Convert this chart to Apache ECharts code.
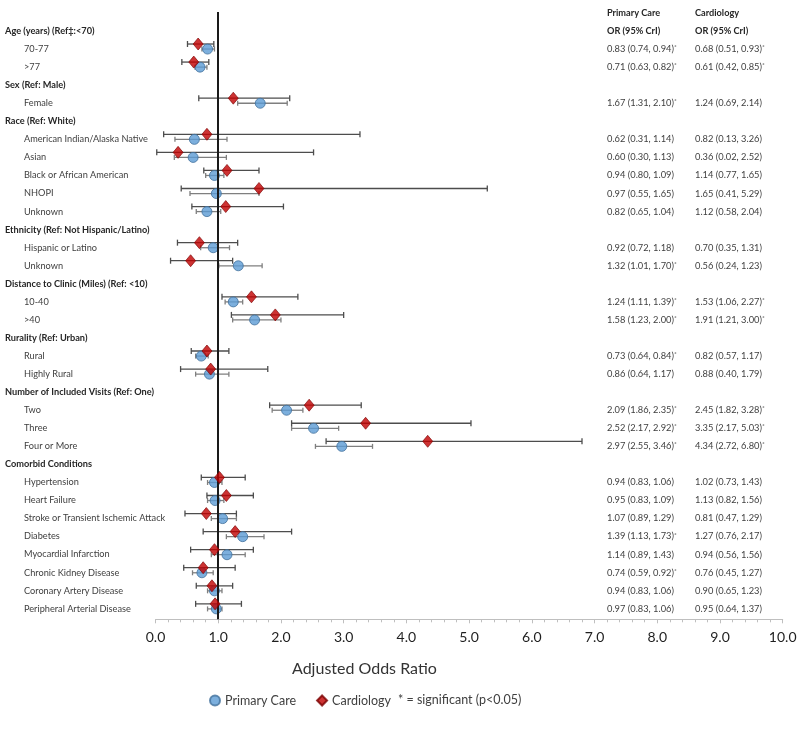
<!DOCTYPE html>
<html>
<head>
<meta charset="utf-8">
<script src="https://cdn.jsdelivr.net/npm/echarts@6/dist/echarts.min.js"></script>
<style>
  html, body { margin: 0; padding: 0; background: #fff; }
  #chart { width: 800px; height: 741px; }
</style>
</head>
<body>
<div id="chart"></div>
<script>
// rows of the forest plot, top to bottom
var rowLabels = [
    'Age (years) (Ref‡:<70)', '70-77', '>77',
    'Sex (Ref: Male)', 'Female',
    'Race (Ref: White)', 'American Indian/Alaska Native', 'Asian', 'Black or African American', 'NHOPI', 'Unknown',
    'Ethnicity (Ref: Not Hispanic/Latino)', 'Hispanic or Latino', 'Unknown',
    'Distance to Clinic (Miles) (Ref: <10)', '10-40', '>40',
    'Rurality (Ref: Urban)', 'Rural', 'Highly Rural',
    'Number of Included Visits (Ref: One)', 'Two', 'Three', 'Four or More',
    'Comorbid Conditions', 'Hypertension', 'Heart Failure', 'Stroke or Transient Ischemic Attack',
    'Diabetes', 'Myocardial Infarction', 'Chronic Kidney Disease', 'Coronary Artery Disease',
    'Peripheral Arterial Disease'
];
var headerRows = [0, 3, 5, 11, 14, 17, 20, 24];
var itemRows = [1, 2, 4, 6, 7, 8, 9, 10, 12, 13, 15, 16, 18, 19, 21, 22, 23, 25, 26, 27, 28, 29, 30, 31, 32];

// Primary Care
var pcOR   = [0.83, 0.71, 1.67, 0.62, 0.60, 0.94, 0.97, 0.82, 0.92, 1.32, 1.24, 1.58, 0.73, 0.86, 2.09, 2.52, 2.97, 0.94, 0.95, 1.07, 1.39, 1.14, 0.74, 0.94, 0.97];
var pcLow  = [0.74, 0.63, 1.31, 0.31, 0.30, 0.80, 0.55, 0.65, 0.72, 1.01, 1.11, 1.23, 0.64, 0.64, 1.86, 2.17, 2.55, 0.83, 0.83, 0.89, 1.13, 0.89, 0.59, 0.83, 0.83];
var pcHigh = [0.94, 0.82, 2.10, 1.14, 1.13, 1.09, 1.65, 1.04, 1.18, 1.70, 1.39, 2.00, 0.84, 1.17, 2.35, 2.92, 3.46, 1.06, 1.09, 1.29, 1.73, 1.43, 0.92, 1.06, 1.06];
var pcSig  = [1, 1, 1, 0, 0, 0, 0, 0, 0, 1, 1, 1, 1, 0, 1, 1, 1, 0, 0, 0, 1, 0, 1, 0, 0];

// Cardiology
var cdOR   = [0.68, 0.61, 1.24, 0.82, 0.36, 1.14, 1.65, 1.12, 0.70, 0.56, 1.53, 1.91, 0.82, 0.88, 2.45, 3.35, 4.34, 1.02, 1.13, 0.81, 1.27, 0.94, 0.76, 0.90, 0.95];
var cdLow  = [0.51, 0.42, 0.69, 0.13, 0.02, 0.77, 0.41, 0.58, 0.35, 0.24, 1.06, 1.21, 0.57, 0.40, 1.82, 2.17, 2.72, 0.73, 0.82, 0.47, 0.76, 0.56, 0.45, 0.65, 0.64];
var cdHigh = [0.93, 0.85, 2.14, 3.26, 2.52, 1.65, 5.29, 2.04, 1.31, 1.23, 2.27, 3.00, 1.17, 1.79, 3.28, 5.03, 6.80, 1.43, 1.56, 1.29, 2.17, 1.56, 1.27, 1.23, 1.37];
var cdSig  = [1, 1, 0, 0, 0, 0, 0, 0, 0, 0, 1, 1, 0, 0, 1, 1, 1, 0, 0, 0, 0, 0, 0, 0, 0];

var xMin = 0, xMax = 10, xStep = 1;
var tableTitles = ['Primary Care', 'Cardiology'];
var tableSubTitle = 'OR (95% CrI)';
var sigNote = '* = significant (p<0.05)';

document.addEventListener('DOMContentLoaded', function () {
    var chart = echarts.init(document.getElementById('chart'));
    var FONT = 'Lato, "DejaVu Sans", sans-serif';
    var cdShift = -0.28;   // diamond sits a little above the circle

    var pcPoints = [], cdPoints = [], pcBars = [], cdBars = [];
    var pcText = {}, cdText = {};
    function fmt(or, lo, hi, sig) {
        var s = '{v|' + or.toFixed(2) + ' (' + lo.toFixed(2) + ', ' + hi.toFixed(2) + ')}';
        return sig ? s + '{s|*}' : s;
    }
    itemRows.forEach(function (r, i) {
        pcPoints.push([pcOR[i], r]);
        cdPoints.push([cdOR[i], r + cdShift]);
        pcBars.push([pcLow[i], pcHigh[i], r]);
        cdBars.push([cdLow[i], cdHigh[i], r + cdShift]);
        pcText[r] = fmt(pcOR[i], pcLow[i], pcHigh[i], pcSig[i]);
        cdText[r] = fmt(cdOR[i], cdLow[i], cdHigh[i], cdSig[i]);
    });

    // table rows: one title row above the plot rows
    var tableCats = ['t'].concat(rowLabels.map(function (_, i) { return String(i); }));

    function errorBar(color, cap) {
        return function (params, api) {
            var y = api.value(2);
            var a = api.coord([api.value(0), y]);
            var b = api.coord([api.value(1), y]);
            var st = { stroke: color, lineWidth: 1.3 };
            return {
                type: 'group',
                children: [
                    { type: 'line', shape: { x1: a[0], y1: a[1], x2: b[0], y2: b[1] }, style: st },
                    { type: 'line', shape: { x1: a[0], y1: a[1] - cap, x2: a[0], y2: a[1] + cap }, style: st },
                    { type: 'line', shape: { x1: b[0], y1: b[1] - cap, x2: b[0], y2: b[1] + cap }, style: st }
                ]
            };
        };
    }

    var rich = {
        h: { fontFamily: FONT, fontSize: 9.2, fontWeight: 'bold', color: '#262626' },
        i: { fontFamily: FONT, fontSize: 9.2, color: '#404040', padding: [0, 0, 0, 19] },
        v: { fontFamily: FONT, fontSize: 9.3, color: '#404040' },
        s: { fontFamily: FONT, fontSize: 6.5, color: '#404040', padding: [0, 0, 4, 0] }
    };

    function tableLabel(col, textMap) {
        return function (val) {
            if (val === 't') return '{h|' + tableTitles[col] + '}';
            var r = +val;
            if (r === 0) return '{h|' + tableSubTitle + '}';
            return textMap[r] === undefined ? '' : textMap[r];
        };
    }

    var option = {
        animation: false,
        backgroundColor: '#fff',
        title: [{
            text: 'Adjusted Odds Ratio',
            left: 287,
            top: 656,
            textStyle: { fontFamily: FONT, fontSize: 16, fontWeight: 'normal', color: '#333' }
        }, {
            text: sigNote,
            left: 393,
            top: 688,
            textStyle: { fontFamily: FONT, fontSize: 12.5, fontWeight: 'normal', color: '#404040' }
        }],
        legend: {
            left: 204,
            top: 689,
            itemWidth: 10,
            itemHeight: 10,
            itemGap: 20,
            textStyle: { fontFamily: FONT, fontSize: 12.5, color: '#404040' },
            data: [
                { name: 'Primary Care', icon: 'circle' },
                { name: 'Cardiology', icon: 'diamond' }
            ]
        },
        grid: [
            { left: 155.5, right: 17.3, top: 12, bottom: 121.7 },
            { left: 160, right: 193, top: 3.975, bottom: 123.3 }
        ],
        xAxis: [{
            gridIndex: 0,
            type: 'value',
            min: xMin,
            max: xMax,
            interval: xStep,
            axisLine: { onZero: false, lineStyle: { color: '#bfbfbf', width: 1 } },
            axisTick: { show: true, length: 4, lineStyle: { color: '#bfbfbf' } },
            minorTick: { show: true, splitNumber: 5, length: 3, lineStyle: { color: '#bfbfbf' } },
            splitLine: { show: false },
            axisLabel: {
                margin: 11,
                fontFamily: FONT,
                fontSize: 14,
                color: '#1f1f1f',
                formatter: function (v) { return v.toFixed(1); }
            }
        }, {
            gridIndex: 1,
            type: 'value',
            show: false
        }],
        yAxis: [{
            gridIndex: 0,
            type: 'value',
            inverse: true,
            min: -1.0526,
            max: 32.576,
            show: false
        }, {
            gridIndex: 1,
            type: 'category',
            inverse: true,
            position: 'left',
            data: tableCats,
            axisLine: { show: false },
            axisTick: { show: false },
            axisLabel: {
                interval: 0,
                margin: 155,
                align: 'left',
                rich: rich,
                formatter: function (val) {
                    if (val === 't') return '';
                    var r = +val;
                    if (headerRows.indexOf(r) >= 0) return '{h|' + rowLabels[r] + '}';
                    return '{i|' + rowLabels[r] + '}';
                }
            }
        }, {
            gridIndex: 1,
            type: 'category',
            inverse: true,
            position: 'right',
            data: tableCats,
            axisLine: { show: false },
            axisTick: { show: false },
            axisLabel: { interval: 0, margin: 0, align: 'left', rich: rich, formatter: tableLabel(0, pcText) }
        }, {
            gridIndex: 1,
            type: 'category',
            inverse: true,
            position: 'right',
            offset: 88,
            data: tableCats,
            axisLine: { show: false },
            axisTick: { show: false },
            axisLabel: { interval: 0, margin: 0, align: 'left', rich: rich, formatter: tableLabel(1, cdText) }
        }],
        series: [{
            name: 'pcBars',
            type: 'custom',
            xAxisIndex: 0,
            yAxisIndex: 0,
            renderItem: errorBar('#7f7f7f', 2.5),
            encode: { x: [0, 1], y: 2 },
            data: pcBars,
            z: 2
        }, {
            name: 'cdBars',
            type: 'custom',
            xAxisIndex: 0,
            yAxisIndex: 0,
            renderItem: errorBar('#4d4d4d', 3),
            encode: { x: [0, 1], y: 2 },
            data: cdBars,
            z: 3
        }, {
            name: 'Primary Care',
            type: 'scatter',
            xAxisIndex: 0,
            yAxisIndex: 0,
            symbol: 'circle',
            symbolSize: 10,
            itemStyle: { color: '#5b9bd5', borderColor: '#41719c', borderWidth: 1 },
            data: pcPoints,
            z: 4,
            markLine: {
                silent: true,
                symbol: 'none',
                label: { show: false },
                lineStyle: { color: '#1a1a1a', width: 2, type: 'solid' },
                data: [{ xAxis: 1 }]
            }
        }, {
            name: 'Cardiology',
            type: 'scatter',
            xAxisIndex: 0,
            yAxisIndex: 0,
            symbol: 'diamond',
            symbolSize: [10, 12],
            itemStyle: { color: '#c00000', borderColor: '#7a0000', borderWidth: 0.8 },
            data: cdPoints,
            z: 5
        }]
    };

    chart.setOption(option);
});
</script>
</body>
</html>
